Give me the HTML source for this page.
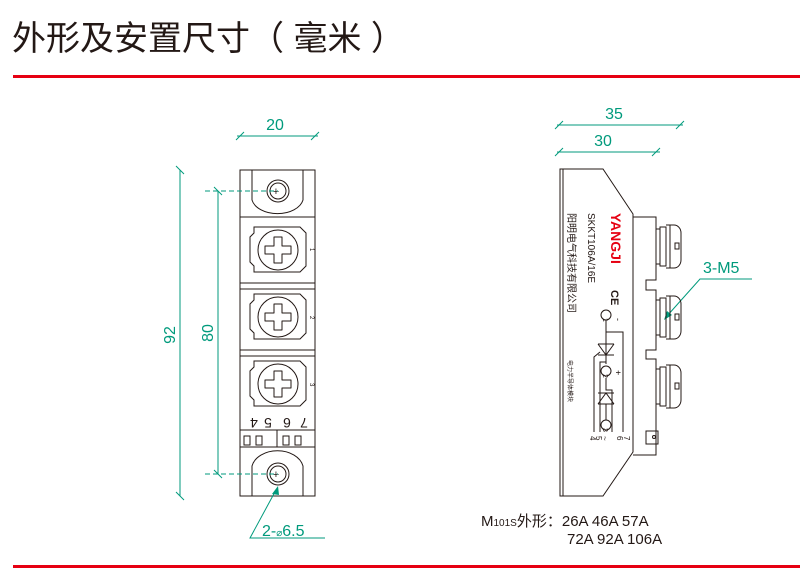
<!DOCTYPE html>
<html><head><meta charset="utf-8"><style>
html,body{margin:0;padding:0;background:#fff;}
svg{display:block;}
text{font-family:"Liberation Sans","Noto Sans CJK SC",sans-serif;}
</style></head><body>
<svg width="800" height="583" viewBox="0 0 800 583" xmlns="http://www.w3.org/2000/svg">
<text x="12" y="50" font-size="34" fill="#231815" font-family="Noto Sans CJK SC, sans-serif">外形及安置尺寸（ 毫米 ）</text>
<rect x="13" y="75" width="787" height="3" fill="#e60012"/>
<rect x="13" y="565" width="787" height="3" fill="#e60012"/>

<g stroke="#231815" stroke-width="1" fill="none">
<rect x="240" y="170" width="75" height="326"/>
<path d="M252 170 V200 A26 17 0 0 0 303 200 V170"/>
<line x1="240" y1="217" x2="315" y2="217"/>
<circle cx="278" cy="191" r="11"/><circle cx="278" cy="191" r="8"/>
<line x1="240" y1="283" x2="315" y2="283"/>
<line x1="240" y1="289" x2="315" y2="289"/>
<line x1="240" y1="350" x2="315" y2="350"/>
<line x1="240" y1="356" x2="315" y2="356"/>
<g id="scr">
<path d="M254 227 H300 L306 233 V266 L300 272 H254 V266 L250 262 V237 L254 233 Z"/>
<circle cx="278" cy="250" r="20"/>
<path d="M274 237 h8 v9 h9 v8 h-9 v9 h-8 v-9 h-9 v-8 h9 z" stroke-linejoin="round"/>
</g>
<use href="#scr" y="67"/>
<use href="#scr" y="134"/>
<rect x="240" y="430" width="75" height="17"/>
<line x1="277" y1="430" x2="277" y2="447"/>
<rect x="244" y="436" width="6" height="9"/><rect x="256" y="436" width="6" height="9"/>
<rect x="283" y="436" width="6" height="9"/><rect x="295" y="436" width="6" height="9"/>
<path d="M252 496 V466 A26 19 0 0 1 303 466 V496"/>
<circle cx="278" cy="474" r="11"/><circle cx="278" cy="474" r="8"/>
</g>
<g font-size="6" fill="#231815">
<text x="310" y="248" transform="rotate(90 310 248)">1</text>
<text x="310" y="316" transform="rotate(90 310 316)">2</text>
<text x="310" y="383" transform="rotate(90 310 383)">3</text>
</g>
<g font-size="14" fill="#231815">
<text x="254" y="418" transform="rotate(180 254 418)" text-anchor="middle">4</text>
<text x="268" y="418" transform="rotate(180 268 418)" text-anchor="middle">5</text>
<text x="287" y="418" transform="rotate(180 287 418)" text-anchor="middle">6</text>
<text x="304" y="418" transform="rotate(180 304 418)" text-anchor="middle">7</text>
</g>
<text x="276" y="195" text-anchor="middle" fill="#231815" font-size="11">+</text>
<text x="276" y="478" text-anchor="middle" fill="#231815" font-size="11">+</text>

<g stroke="#009a7c" stroke-width="1" fill="none">
<line x1="237" y1="136" x2="318" y2="136"/>
<line x1="236" y1="140" x2="244" y2="132"/><line x1="311" y1="140" x2="319" y2="132"/>
<line x1="180" y1="170" x2="180" y2="496"/>
<line x1="176" y1="166" x2="184" y2="174"/><line x1="176" y1="492" x2="184" y2="500"/>
<line x1="218" y1="191" x2="218" y2="474"/>
<line x1="214" y1="187" x2="222" y2="195"/><line x1="214" y1="470" x2="222" y2="478"/>
<line x1="205" y1="191" x2="278" y2="191" stroke-dasharray="5,3"/>
<line x1="205" y1="474" x2="278" y2="474" stroke-dasharray="5,3"/>
<path d="M325 538 H250 L276 490"/>
</g>
<path d="M278 486 L272 494 L279 495 Z" fill="#009a7c"/>
<g fill="#009a7c" font-size="16">
<text x="275" y="130" text-anchor="middle">20</text>
<text x="175" y="335" text-anchor="middle" transform="rotate(-90 175 335)">92</text>
<text x="213" y="333" text-anchor="middle" transform="rotate(-90 213 333)">80</text>
<text x="262" y="536">2-<tspan font-size="10">⌀</tspan>6.5</text>
<text x="614" y="119" text-anchor="middle">35</text>
<text x="603" y="146" text-anchor="middle">30</text>
<text x="703" y="273">3-M5</text>
</g>
<g stroke="#009a7c" stroke-width="1" fill="none">
<line x1="557" y1="125" x2="683" y2="125"/>
<line x1="555" y1="129" x2="563" y2="121"/><line x1="676" y1="129" x2="684" y2="121"/>
<line x1="557" y1="152" x2="660" y2="152"/>
<line x1="555" y1="156" x2="563" y2="148"/><line x1="652" y1="156" x2="660" y2="148"/>
<path d="M752 279 H700 L667 316"/>
</g>
<path d="M664 320 L667 311 L672 315 Z" fill="#009a7c"/>

<g stroke="#231815" stroke-width="1" fill="none">
<path d="M560 169 H603 L633 214 V452 L603 496 H560 Z"/>
<line x1="563" y1="169" x2="563" y2="496"/>
<path d="M633 217 H656 V280 H646 V290 H656 V350 H646 V359 H656 V455 H633"/>
<g id="bolt">
<path d="M656 229 H660 V227 H666 V266 H660 V264 H656"/>
<line x1="660" y1="229" x2="660" y2="264"/>
<path d="M666 225 H674 A7 8 0 0 1 681 233 V260 A7 8 0 0 1 674 268 H666"/>
<line x1="670" y1="225" x2="670" y2="268"/>
<rect x="675" y="243" width="4" height="6"/>
</g>
<use href="#bolt" y="71"/>
<use href="#bolt" y="140"/>
<rect x="646" y="431" width="12" height="13"/>
<circle cx="654" cy="437" r="1.5"/>
<path d="M606 320 V332 H623 V432"/>
<path d="M606 332 V355 M598 344 H614 M598 344 L606 355 L614 344 M598 355 H614"/>
<path d="M606 355 V364 M606 378 V390 H612 V432"/>
<path d="M598 404 H614 M598 404 L606 393 L614 404 M598 393 H614 M606 404 V420"/>
<path d="M594 432 V357 L600 352 M600 432 V362 H606"/>
<circle cx="606" cy="315" r="5"/><circle cx="606" cy="371" r="5"/><circle cx="606" cy="425" r="5"/>
</g>
<g fill="#231815">
<text x="611" y="213" font-size="14" font-weight="bold" fill="#e60012" transform="rotate(90 611 213)">YANGJI</text>
<text x="588" y="213" font-size="10" transform="rotate(90 588 213)">SKKT106A/16E</text>
<text x="568" y="213" font-size="10" font-family="Noto Sans CJK SC,sans-serif" transform="rotate(90 568 213)">阳明电气科技有限公司</text>
<text x="611" y="290" font-size="11" font-weight="bold" transform="rotate(90 611 290)">CE</text>
<text x="615" y="318" font-size="9" transform="rotate(90 615 318)">-</text>
<text x="615" y="370" font-size="9" transform="rotate(90 615 370)">+</text>
<text x="568" y="360" font-size="6" font-family="Noto Sans CJK SC,sans-serif" transform="rotate(90 568 360)">电力半导体模块</text>
<text x="603" y="318" font-size="7" transform="rotate(90 603 318)">1</text>
<text x="603" y="374" font-size="7" transform="rotate(90 603 374)">2</text>
<text x="603" y="428" font-size="7" transform="rotate(90 603 428)">3</text>
<text x="590" y="436" font-size="8" transform="rotate(90 590 436)">4</text>
<text x="596" y="436" font-size="8" transform="rotate(90 596 436)">5</text>
<text x="602" y="436" font-size="8" transform="rotate(90 602 436)">~</text>
<text x="617" y="436" font-size="8" transform="rotate(90 617 436)">6</text>
<text x="624" y="436" font-size="8" transform="rotate(90 624 436)">7</text>
</g>

<g fill="#231815" font-size="15">
<text x="481" y="526">M<tspan font-size="10">101S</tspan><tspan font-family="Noto Sans CJK SC,sans-serif">外形：</tspan>26A 46A 57A</text>
<text x="567" y="544">72A 92A 106A</text>
</g>
</svg>
</body></html>
